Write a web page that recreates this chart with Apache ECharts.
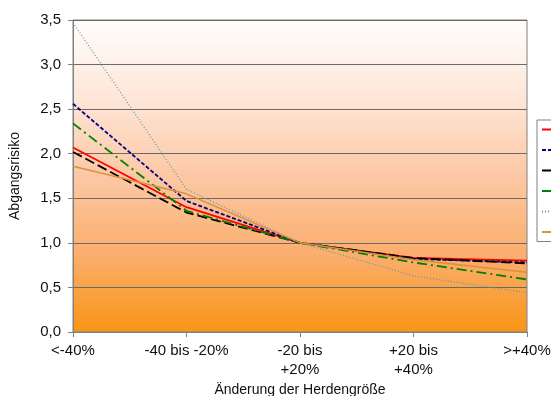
<!DOCTYPE html>
<html>
<head>
<meta charset="utf-8">
<title>Abgangsrisiko</title>
<style>
  html, body { margin: 0; padding: 0; background: #fff; }
  #chart { width: 551px; height: 396px; }
</style>
</head>
<body>
<div id="chart"></div>
<script src="https://cdn.jsdelivr.net/npm/echarts@6/dist/echarts.min.js"></script>
<script>
var categories = ['<-40%', '-40 bis -20%', '-20 bis\n+20%', '+20 bis\n+40%', '>+40%'];

var names = ['Reihe 1', 'Reihe 2', 'Reihe 3', 'Reihe 4', 'Reihe 5', 'Reihe 6'];
var red    = [2.07, 1.40, 1.00, 0.83, 0.80];
var navy   = [2.56, 1.47, 1.00, 0.82, 0.78];
var black  = [2.02, 1.34, 1.00, 0.83, 0.77];
var green  = [2.34, 1.36, 1.00, 0.78, 0.59];
var dotted = [3.47, 1.60, 1.00, 0.63, 0.44];
var orange = [1.86, 1.55, 1.00, 0.81, 0.67];

var yTicks = { min: 0, max: 3.5, step: 0.5 };

var chart = echarts.init(document.getElementById('chart'));

function line(name, data, color, width, type) {
  return {
    name: name,
    type: 'line',
    data: data,
    symbol: 'none',
    smooth: false,
    lineStyle: { color: color, width: width, type: type },
    itemStyle: { color: color }
  };
}

var option = {
  animation: false,
  textStyle: { fontFamily: 'Liberation Sans, Arial, sans-serif' },
  grid: {
    left: 73, right: 24, top: 20, bottom: 64,
    outerBoundsMode: 'none',
    containLabel: false,
    show: true,
    borderColor: '#808080',
    borderWidth: 1,
    backgroundColor: new echarts.graphic.LinearGradient(0, 0, 0, 1, [
      { offset: 0, color: '#fffefd' },
      { offset: 0.25, color: '#fee6d8' },
      { offset: 0.5, color: '#fcc8a4' },
      { offset: 0.75, color: '#fbae6e' },
      { offset: 1, color: '#f99514' }
    ])
  },
  legend: {
    orient: 'vertical',
    left: 537, top: 120,
    itemGap: 7.5,
    itemWidth: 20, itemHeight: 14,
    padding: [3, 6, 3, 4],
    borderColor: '#808080', borderWidth: 1,
    backgroundColor: '#fff',
    itemStyle: { opacity: 0 },
    textStyle: { fontSize: 13, color: '#000' },
    data: names
  },
  xAxis: {
    type: 'category',
    data: categories,
    boundaryGap: false,
    axisLine: { lineStyle: { color: '#808080' } },
    axisTick: { show: true, length: 5, alignWithLabel: true, lineStyle: { color: '#808080' } },
    axisLabel: { interval: 0, color: '#111', fontSize: 15, margin: 9, lineHeight: 19 },
    name: 'Änderung der Herdengröße',
    nameLocation: 'middle',
    nameMoveOverlap: false,
    nameGap: 51,
    nameTextStyle: { color: '#111', fontSize: 14 }
  },
  yAxis: {
    type: 'value',
    min: yTicks.min, max: yTicks.max, interval: yTicks.step,
    axisLine: { show: true, lineStyle: { color: '#808080' } },
    axisTick: { show: true, length: 5, lineStyle: { color: '#808080' } },
    splitLine: { lineStyle: { color: '#6a6a6a', width: 1 } },
    axisLabel: {
      color: '#111', fontSize: 15, margin: 12,
      formatter: function (v) { return v.toFixed(1).replace('.', ','); }
    },
    name: 'Abgangsrisiko',
    nameLocation: 'middle',
    nameMoveOverlap: false,
    nameGap: 51,
    nameRotate: 90,
    nameTextStyle: { color: '#111', fontSize: 14 }
  },
  series: [
    line(names[0], red, '#ff0000', 1.8, 'solid'),
    line(names[1], navy, '#000080', 1.8, [4, 2]),
    line(names[2], black, '#000000', 1.8, [10, 4]),
    line(names[3], green, '#008000', 1.8, [10, 4, 2, 4]),
    line(names[4], dotted, '#5a98b0', 1.2, [1, 2]),
    line(names[5], orange, '#d8913f', 1.5, 'solid')
  ]
};

chart.setOption(option);
</script>
</body>
</html>
